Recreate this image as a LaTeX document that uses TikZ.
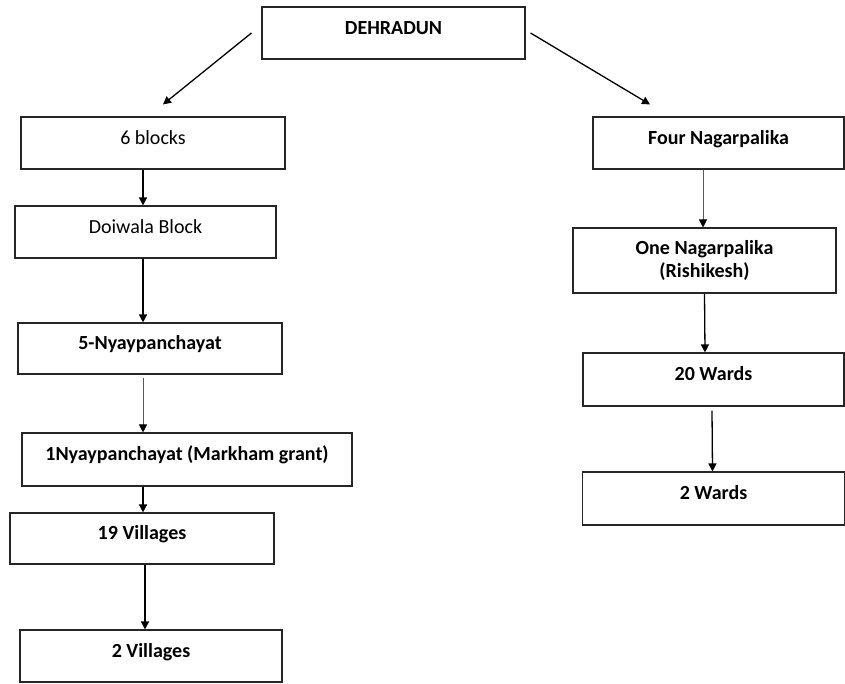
\documentclass[tikz,border=0pt]{standalone}
\usepackage{fontspec}
\setmainfont{Carlito}
\usepackage{tikz}
\usetikzlibrary{arrows.meta,shapes,positioning}
\tikzstyle{unit} = [draw=black!85, line width=1.1pt, rectangle,
    minimum height=52pt, inner xsep=2pt, inner ysep=0pt,
    text height=14pt, text depth=12pt, font=\fontsize{20}{23}\selectfont]
\tikzstyle{bold unit} = [unit, font=\fontsize{20}{23}\selectfont\bfseries]
\tikzstyle{link} = [-{Triangle[length=8pt,width=8pt]}, line width=1.3pt]
\tikzstyle{thin link} = [-{Triangle[length=8pt,width=8pt,color=black]}, line width=0.9pt, black!65]

\begin{document}
\begin{tikzpicture}[node distance = 110pt, auto]
  \useasboundingbox (0,0) rectangle (845pt,-683pt);
  % Place nodes
  \node [bold unit, minimum width=263pt] (dehradun) at (393.5pt,-33pt) {DEHRADUN};
  \node [unit, minimum width=264pt, below of=dehradun, xshift=-240.5pt] (blocks) {6 blocks};
  \node [unit, minimum width=261pt, below of=blocks, node distance=89pt, xshift=-7.5pt] (doiwala) {Doiwala Block};
  \node [bold unit, minimum width=264pt, minimum height=51pt, below of=doiwala, node distance=116.5pt, xshift=4.5pt] (nyay) {5-Nyaypanchayat};
  \node [bold unit, minimum width=330pt, minimum height=53pt, below of=nyay, node distance=111pt, xshift=37pt] (markham) {1Nyaypanchayat (Markham grant)};
  \node [bold unit, minimum width=264pt, minimum height=51pt, below of=markham, node distance=79pt, xshift=-45pt] (villages) {19 Villages};
  \node [bold unit, minimum width=262pt, below of=villages, node distance=117.5pt, xshift=9pt] (twovill) {2 Villages};
  \node [bold unit, minimum width=251pt, below of=dehradun, xshift=325pt] (four) {Four Nagarpalika};
  \node [bold unit, minimum width=263pt, minimum height=65pt, align=center, text height={}, text depth={},
         below of=four, node distance=117.5pt, xshift=-14pt] (onenag) {One Nagarpalika\\(Rishikesh)};
  \node [bold unit, minimum width=261pt, minimum height=53pt, below of=onenag, node distance=119pt, xshift=9pt] (twenty) {20 Wards};
  \node [bold unit, minimum width=262pt, minimum height=53pt, below of=twenty, node distance=119pt] (twowards) {2 Wards};
  % Draw arrows
  \draw [link] ([xshift=-10pt]dehradun.west) -- ([shift={(10pt,12pt)}]blocks.north);
  \draw [link] ([xshift=5pt]dehradun.east) -- ([shift={(-68.5pt,12pt)}]four.north);
  \draw [link] ([xshift=-10pt]blocks.south) -- ([xshift=-2.5pt]doiwala.north);
  \draw [link] ([xshift=-2.5pt]doiwala.south) -- ([xshift=-7pt]nyay.north);
  \draw [thin link] ([shift={(-7pt,-3pt)}]nyay.south) -- ([xshift=-44pt]markham.north);
  \draw [link] ([xshift=-44pt]markham.south) -- ([xshift=1pt]villages.north);
  \draw [link] ([xshift=3pt]villages.south) -- ([xshift=-6pt]twovill.north);
  \draw [thin link] ([xshift=-15.5pt]four.south) -- ([xshift=-1.5pt]onenag.north);
  \draw [link] (onenag.south) -- ([xshift=-8.5pt]twenty.north);
  \draw [link] ([shift={(-1.5pt,-4pt)}]twenty.south) -- ([xshift=-1pt]twowards.north);
\end{tikzpicture}
\end{document}
